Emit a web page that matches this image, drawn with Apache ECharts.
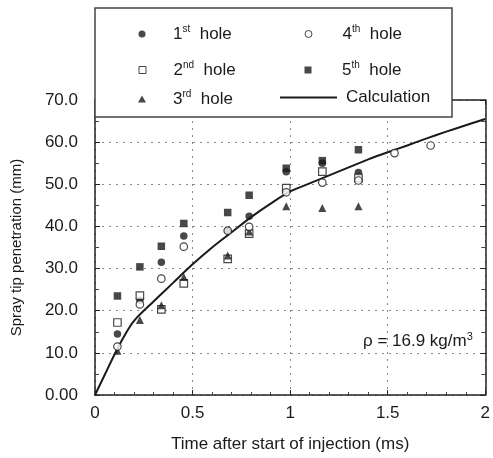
<!DOCTYPE html>
<html>
<head>
<meta charset="utf-8">
<script src="https://cdn.jsdelivr.net/npm/echarts@6/dist/echarts.min.js"></script>
<style>html,body{margin:0;padding:0;background:#fff}#c{width:493px;height:458px}</style>
</head>
<body>
<div id="c"></div>
<script>
// ---- data ----
var timesA = [0.115, 0.23, 0.34, 0.455, 0.68, 0.79, 0.98, 1.165, 1.35];
var timesB = [0.115, 0.23, 0.34, 0.455, 0.68, 0.79, 0.98, 1.165, 1.35, 1.535, 1.72];
var hole1 = [14.5, 22.5, 31.5, 37.7, 39.0, 42.4, 53.0, 55.0, 52.8];
var hole2 = [17.2, 23.6, 20.3, 26.5, 32.3, 38.3, 49.1, 53.0, 51.5];
var hole3 = [10.5, 17.8, 21.3, 28.0, 33.1, 38.8, 44.8, 44.4, 44.8];
var hole4 = [11.5, 21.5, 27.6, 35.2, 39.0, 39.9, 48.1, 50.4, 50.9, 57.4, 59.2];
var hole5 = [23.5, 30.4, 35.3, 40.7, 43.3, 47.4, 53.8, 55.6, 58.2];
var calcT = [0, 0.05, 0.1, 0.15, 0.2, 0.3, 0.4, 0.5, 0.6, 0.7, 0.8, 0.9, 1.0, 1.1, 1.2, 1.3, 1.4, 1.5, 1.6, 1.7, 1.8, 1.9, 2.0];
var calcV = [0, 4.8, 9.6, 14.0, 17.6, 22.2, 26.6, 31.0, 35.0, 38.6, 42.2, 45.4, 48.3, 50.2, 52.1, 54.0, 55.9, 57.6, 59.2, 60.9, 62.5, 64.0, 65.5];
var yTicks = ['0.00', '10.0', '20.0', '30.0', '40.0', '50.0', '60.0', '70.0'];
var xTicks = ['0', '0.5', '1', '1.5', '2'];
var seriesNames = ['1st hole', '2nd hole', '3rd hole', '4th hole', '5th hole', 'Calculation'];

function pairs(t, v) { return v.map(function (y, i) { return [t[i], y]; }); }

var FONT = "'Liberation Sans', Arial, sans-serif";
var INK = '#1a1a1a';
var FS = 17;

var chart = echarts.init(document.getElementById('c'), null, { renderer: 'canvas' });

var supMap = { '1st hole': ['1', 'st'], '2nd hole': ['2', 'nd'], '3rd hole': ['3', 'rd'], '4th hole': ['4', 'th'], '5th hole': ['5', 'th'] };
function legendFmt(name) {
  if (supMap[name]) return '{f|' + supMap[name][0] + '}{s|' + supMap[name][1] + '}{b|  hole}';
  return '{f|' + name + '}';
}
function richLegend(pad) {
  return {
    f: { fontSize: FS, fontFamily: FONT, color: INK, lineHeight: 20, padding: [0, 0, 0, pad] },
    b: { fontSize: FS, fontFamily: FONT, color: INK, lineHeight: 20 },
    s: { fontSize: 10, fontFamily: FONT, color: INK, verticalAlign: 'top', lineHeight: 12 }
  };
}
// [name, icon centre x, row centre y, icon, icon width, icon height, text start x, filled]
var legendPos = [
  ['1st hole', 142, 34, 'circle', 7, 7, 173, true],
  ['2nd hole', 142, 70, 'rect', 7, 7, 173, false],
  ['3rd hole', 142, 99, 'triangle', 8, 7, 173, true],
  ['4th hole', 308, 34, 'circle', 7, 7, 342, false],
  ['5th hole', 308, 70, 'rect', 7, 7, 342, true],
  ['Calculation', 308.5, 99, 'rect', 57, 2, 346, true]
];
var legends = legendPos.map(function (p) {
  var left = p[1] - p[4] / 2;
  var pad = p[6] - (left + p[4] + 5);
  var st = p[7] ? { color: INK, borderWidth: 0 } : { color: '#fff', borderColor: INK, borderWidth: 1 };
  return {
    data: [{ name: p[0], icon: p[3], itemStyle: st }], left: left, top: p[2] - 10, padding: 0,
    itemWidth: p[4], itemHeight: p[5], itemGap: 0,
    formatter: legendFmt,
    textStyle: { rich: richLegend(pad), fontFamily: FONT, fontSize: FS, color: INK },
    selectedMode: false, z: 20
  };
});

var markerSize = 7.5;
function scatter(name, t, v, symbol, filled) {
  return {
    name: name, type: 'scatter', data: pairs(t, v), symbol: symbol,
    symbolSize: symbol === 'triangle' ? 8 : markerSize,
    itemStyle: filled ? { color: INK } : { color: '#fff', borderColor: INK, borderWidth: 1.2 },
    z: 3
  };
}

var option = {
  animation: false,
  backgroundColor: '#fff',
  grid: { left: 95, right: 3, top: 100, bottom: 62, containLabel: false },
  legend: legends,
  xAxis: [{
    type: 'value', min: 0, max: 2, interval: 0.5,
    name: 'Time after start of injection (ms)', nameLocation: 'middle', nameGap: 41,
    nameTextStyle: { fontFamily: FONT, fontSize: FS, color: INK },
    axisLine: { lineStyle: { color: '#222', width: 1.5 } },
    axisTick: { inside: true, length: 5, lineStyle: { color: '#222' } },
    minorTick: { show: true, splitNumber: 5, length: 3, lineStyle: { color: '#444' } },
    axisLabel: { fontFamily: FONT, fontSize: FS, color: INK, margin: 10,
      formatter: function (v) { return xTicks[Math.round(v / 0.5)]; } },
    splitLine: { show: true, lineStyle: { color: '#888', type: [2, 5], width: 1 } }
  }, {
    type: 'value', min: 0, max: 2, interval: 0.5, position: 'top',
    axisLine: { show: true, onZero: false, lineStyle: { color: '#222', width: 1.5 } },
    axisTick: { show: true, inside: true, length: 5, lineStyle: { color: '#222' } },
    axisLabel: { show: false }, splitLine: { show: false }
  }],
  yAxis: [{
    type: 'value', min: 0, max: 70, interval: 10,
    name: 'Spray tip penetration (mm)', nameLocation: 'middle', nameGap: 71,
    nameTextStyle: { fontFamily: FONT, fontSize: 15, color: INK },
    axisLine: { show: true, lineStyle: { color: '#222', width: 1.5 } },
    axisTick: { show: true, inside: true, length: 5, lineStyle: { color: '#222' } },
    minorTick: { show: true, splitNumber: 2, length: 4, lineStyle: { color: '#444' } },
    axisLabel: { fontFamily: FONT, fontSize: FS, color: INK, margin: 17,
      formatter: function (v) { return yTicks[Math.round(v / 10)]; } },
    splitLine: { show: true, lineStyle: { color: '#888', type: [2, 5], width: 1 } }
  }, {
    type: 'value', min: 0, max: 70, interval: 10, position: 'right',
    axisLine: { show: true, onZero: false, lineStyle: { color: '#222', width: 1.5 } },
    axisTick: { show: true, inside: true, length: 5, lineStyle: { color: '#222' } },
    minorTick: { show: true, splitNumber: 2, length: 4, lineStyle: { color: '#444' } },
    axisLabel: { show: false }, splitLine: { show: false }
  }],
  graphic: [{
    type: 'rect', z: 10, silent: true,
    shape: { x: 95, y: 8, width: 357, height: 109 },
    style: { fill: '#fff', stroke: '#444', lineWidth: 1.5 }
  }, {
    type: 'text', z: 10, left: 363, top: 331,
    style: {
      text: '{a|ρ = 16.9 kg/m}{s|3}',
      rich: {
        a: { fontSize: FS, fontFamily: FONT, fill: INK, lineHeight: 20 },
        s: { fontSize: 11, fontFamily: FONT, fill: INK, verticalAlign: 'top', lineHeight: 12 }
      }
    }
  }],
  series: [
    scatter(seriesNames[0], timesA, hole1, 'circle', true),
    scatter(seriesNames[1], timesA, hole2, 'rect', false),
    scatter(seriesNames[2], timesA, hole3, 'triangle', true),
    scatter(seriesNames[3], timesB, hole4, 'circle', false),
    scatter(seriesNames[4], timesA, hole5, 'rect', true),
    {
      name: seriesNames[5], type: 'line', data: pairs(calcT, calcV), smooth: 0.3,
      showSymbol: false, symbol: 'none', lineStyle: { color: INK, width: 2 },
      itemStyle: { color: INK }, z: 2
    }
  ]
};
chart.setOption(option);
</script>
</body>
</html>
